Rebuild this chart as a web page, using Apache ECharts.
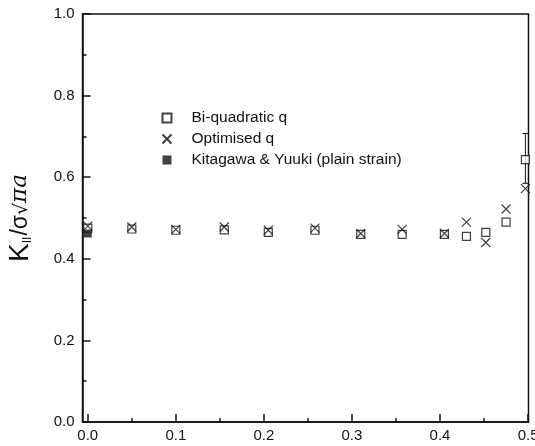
<!DOCTYPE html>
<html><head><meta charset="utf-8">
<script src="https://cdn.jsdelivr.net/npm/echarts@6/dist/echarts.min.js"></script>
<style>html,body{margin:0;padding:0;background:#fff}#c{width:535px;height:446px}</style>
</head><body><div id="c"></div>
<script>
// Data
const xBi = [0.0, 0.05, 0.1, 0.155, 0.205, 0.258, 0.31, 0.357, 0.405, 0.43, 0.452, 0.475, 0.497];
const yBi = [0.475, 0.473, 0.470, 0.471, 0.465, 0.470, 0.460, 0.460, 0.460, 0.455, 0.465, 0.490, 0.643];
const xOpt = [0.0, 0.05, 0.1, 0.155, 0.205, 0.258, 0.31, 0.357, 0.405, 0.43, 0.452, 0.475, 0.497];
const yOpt = [0.480, 0.478, 0.472, 0.478, 0.470, 0.475, 0.462, 0.472, 0.462, 0.490, 0.440, 0.522, 0.572];
const xKY = [0.0];
const yKY = [0.462];
const errX = [0.497];
const errLow = [0.585];
const errHigh = [0.707];
const xMajor = [0, 0.1, 0.2, 0.3, 0.4, 0.5];
const xMinor = [0.05, 0.15, 0.25, 0.35, 0.45];
const names = ['Bi-quadratic q', 'Optimised q', 'Kitagawa & Yuuki (plain strain)'];

const zip = (a, b) => a.map((v, i) => [v, b[i]]);
const font = 'Liberation Sans, Arial, sans-serif';
const crossPath = 'path://M0,0L10,10M10,0L0,10';

const chart = echarts.init(document.getElementById('c'), null, {renderer: 'canvas'});
chart.setOption({
  animation: false,
  backgroundColor: '#fff',
  grid: {left: 82.5, right: 6.5, top: 14, bottom: 24, show: true, borderColor: '#111', borderWidth: 1.5, backgroundColor: 'transparent', outerBoundsMode: 'none', containLabel: false},
  legend: {
    data: names, orient: 'vertical', left: 155, top: 105, itemGap: 5,
    itemWidth: 9, itemHeight: 9,
    textStyle: {fontFamily: font, fontSize: 15.5, color: '#111', padding: [0, 0, 0, 15]}
  },
  xAxis: [{
    type: 'value', min: -0.006, max: 0.5005, position: 'bottom',
    axisLine: {show: true, onZero: false, lineStyle: {color: '#111', width: 1.5}},
    axisTick: {show: true, inside: true, length: 8, customValues: xMajor, lineStyle: {color: '#111', width: 1.5}},
    axisLabel: {customValues: xMajor, formatter: v => v.toFixed(1), fontFamily: font, fontSize: 15, color: '#111', margin: 6},
    splitLine: {show: false}
  }, {
    type: 'value', min: -0.006, max: 0.5005, position: 'bottom',
    axisLine: {show: false},
    axisTick: {show: true, inside: true, length: 4, customValues: xMinor, lineStyle: {color: '#111', width: 1.5}},
    axisLabel: {show: false}, splitLine: {show: false}
  }],
  yAxis: {
    type: 'value', min: 0, max: 1, interval: 0.2,
    axisLine: {show: true, onZero: false, lineStyle: {color: '#111', width: 1.5}},
    axisTick: {show: true, inside: true, length: 8, lineStyle: {color: '#111', width: 1.5}},
    minorTick: {show: true, splitNumber: 2, length: 4, lineStyle: {color: '#111', width: 1.5}},
    axisLabel: {formatter: v => v.toFixed(1), fontFamily: font, fontSize: 15, color: '#111', margin: 8},
    splitLine: {show: false},
    name: '{k|K}{s|II}{n|/σ}{r|√}{p|πa}',
    nameLocation: 'middle', nameRotate: 90, nameGap: 48,
    nameTextStyle: {
      color: '#111', fontFamily: font,
      rich: {
        k: {fontSize: 28, fontFamily: font, color: '#111'},
        s: {fontSize: 12, fontFamily: font, color: '#111', padding: [14, 1, 0, 0]},
        n: {fontSize: 23, fontFamily: font, color: '#111'},
        r: {fontSize: 19, fontFamily: 'DejaVu Sans', color: '#111', padding: [4, 0, 0, 0]},
        p: {fontSize: 23, fontFamily: 'DejaVu Serif', fontStyle: 'italic', color: '#111'}
      }
    }
  },
  series: [{
    name: names[0], type: 'scatter', data: zip(xBi, yBi), symbol: 'rect', symbolSize: 8,
    itemStyle: {color: '#fff', borderColor: '#111', borderWidth: 1.2}, z: 3
  }, {
    name: names[1], type: 'scatter', data: zip(xOpt, yOpt), symbol: crossPath, symbolSize: 9,
    itemStyle: {color: 'none', borderColor: '#111', borderWidth: 1.2}, z: 4
  }, {
    name: names[2], type: 'scatter', data: zip(xKY, yKY), symbol: 'rect', symbolSize: 8,
    itemStyle: {color: '#111'}, z: 5
  }, {
    name: 'err', type: 'custom', data: errX.map((x, i) => [x, errLow[i], errHigh[i]]),
    renderItem: (params, api) => {
      const lo = api.coord([api.value(0), api.value(1)]);
      const hi = api.coord([api.value(0), api.value(2)]);
      const w = 3;
      return {type: 'group', children: [
        {type: 'line', shape: {x1: hi[0], y1: hi[1], x2: lo[0], y2: lo[1]}, style: {stroke: '#111', lineWidth: 1}},
        {type: 'line', shape: {x1: hi[0] - w, y1: hi[1], x2: hi[0] + w, y2: hi[1]}, style: {stroke: '#111', lineWidth: 1}},
        {type: 'line', shape: {x1: lo[0] - w, y1: lo[1], x2: lo[0] + w, y2: lo[1]}, style: {stroke: '#111', lineWidth: 1}}
      ]};
    }, z: 2
  }]
});
</script></body></html>
